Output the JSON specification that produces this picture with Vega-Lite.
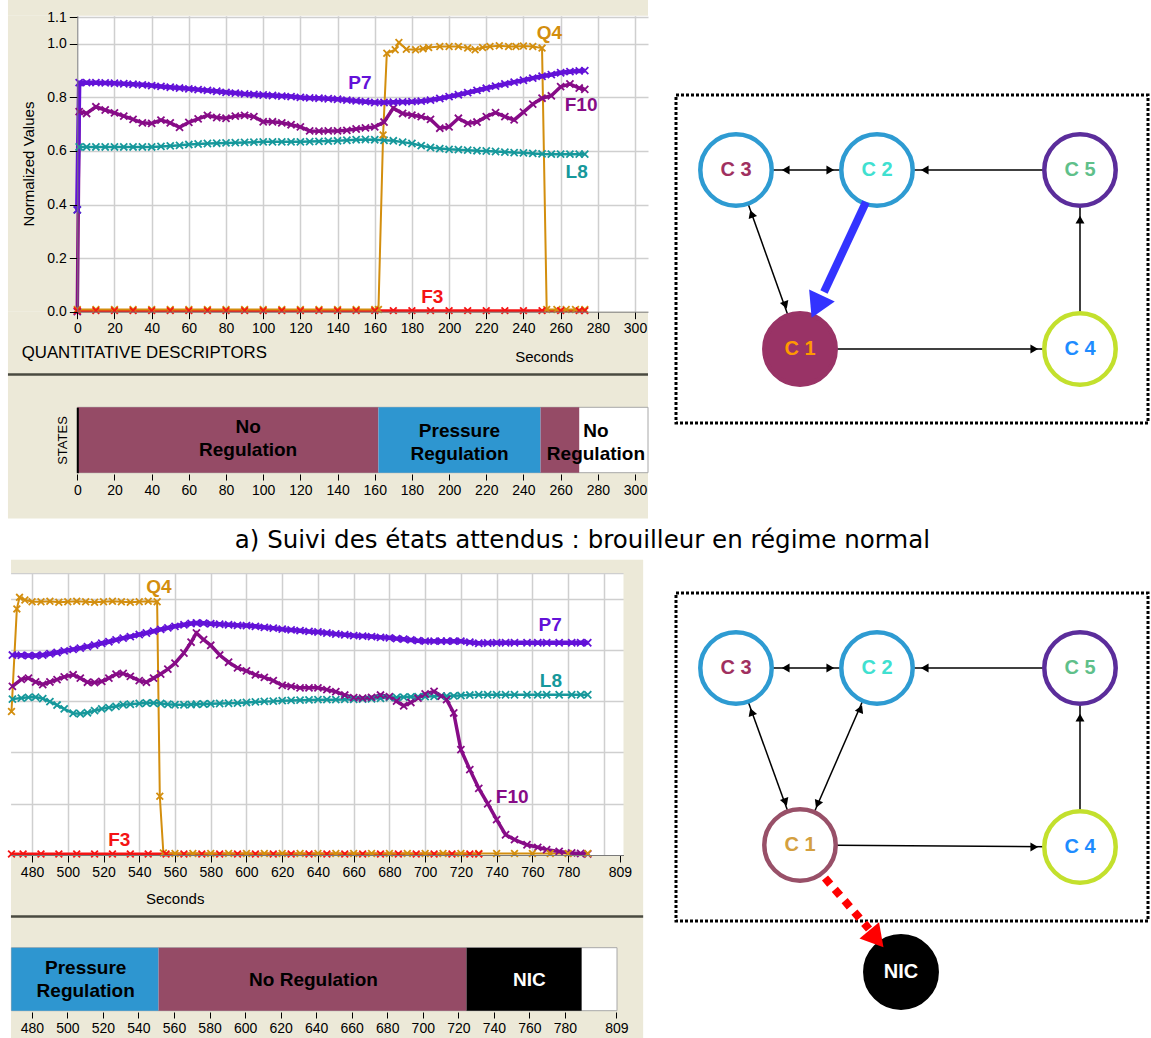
{
"$schema": "https://vega.github.io/schema/vega-lite/v6.json",
"width": 1151, "height": 1038,
"autosize": {"type": "none"},
"padding": 0,
"background": "#FFFFFF",
"config": {
  "view": {"stroke": null},
  "font": "Liberation Sans",
  "axis": {"labelFont": "Liberation Sans", "labelFontSize": 14, "labelColor": "#000000", "tickColor": "#000000", "tickWidth": 1, "domainColor": "#7A7A7A", "titleFont": "Liberation Sans", "titleFontSize": 15, "titleFontWeight": "normal", "titleColor": "#000000", "gridColor": "#CFCFCF", "gridWidth": 1.5, "gridOpacity": 1, "labelFlush": false, "labelOverlap": false}
},
"datasets": {
  "topLines": [
    {"t":0,"P7":0.38,"F10":0.0,"L8":0.38},
    {"t":1,"P7":0.855,"F10":0.747,"L8":0.615},
    {"t":5,"P7":0.855,"F10":0.74,"L8":0.615},
    {"t":10,"P7":0.855,"F10":0.765,"L8":0.615},
    {"t":15,"P7":0.854,"F10":0.753,"L8":0.615},
    {"t":20,"P7":0.853,"F10":0.742,"L8":0.615},
    {"t":25,"P7":0.851,"F10":0.73,"L8":0.615},
    {"t":30,"P7":0.849,"F10":0.718,"L8":0.615},
    {"t":35,"P7":0.847,"F10":0.705,"L8":0.615},
    {"t":40,"P7":0.844,"F10":0.703,"L8":0.615},
    {"t":45,"P7":0.841,"F10":0.715,"L8":0.617},
    {"t":50,"P7":0.838,"F10":0.705,"L8":0.619},
    {"t":55,"P7":0.835,"F10":0.688,"L8":0.621},
    {"t":60,"P7":0.832,"F10":0.707,"L8":0.624},
    {"t":65,"P7":0.829,"F10":0.72,"L8":0.626},
    {"t":70,"P7":0.826,"F10":0.733,"L8":0.628},
    {"t":75,"P7":0.823,"F10":0.725,"L8":0.629},
    {"t":80,"P7":0.819,"F10":0.722,"L8":0.63},
    {"t":85,"P7":0.816,"F10":0.73,"L8":0.631},
    {"t":90,"P7":0.813,"F10":0.733,"L8":0.632},
    {"t":95,"P7":0.811,"F10":0.728,"L8":0.633},
    {"t":100,"P7":0.809,"F10":0.709,"L8":0.634},
    {"t":105,"P7":0.807,"F10":0.709,"L8":0.634},
    {"t":110,"P7":0.805,"F10":0.705,"L8":0.634},
    {"t":115,"P7":0.803,"F10":0.698,"L8":0.634},
    {"t":120,"P7":0.8,"F10":0.69,"L8":0.634},
    {"t":125,"P7":0.798,"F10":0.675,"L8":0.635},
    {"t":130,"P7":0.797,"F10":0.674,"L8":0.636},
    {"t":135,"P7":0.795,"F10":0.675,"L8":0.637},
    {"t":140,"P7":0.793,"F10":0.675,"L8":0.638},
    {"t":145,"P7":0.79,"F10":0.677,"L8":0.64},
    {"t":150,"P7":0.787,"F10":0.682,"L8":0.642},
    {"t":155,"P7":0.784,"F10":0.686,"L8":0.643},
    {"t":160,"P7":0.781,"F10":0.69,"L8":0.642},
    {"t":165,"P7":0.781,"F10":0.708,"L8":0.64},
    {"t":170,"P7":0.782,"F10":0.76,"L8":0.638},
    {"t":175,"P7":0.783,"F10":0.74,"L8":0.633},
    {"t":180,"P7":0.784,"F10":0.734,"L8":0.628},
    {"t":185,"P7":0.786,"F10":0.728,"L8":0.62},
    {"t":190,"P7":0.79,"F10":0.718,"L8":0.613},
    {"t":195,"P7":0.796,"F10":0.685,"L8":0.609},
    {"t":200,"P7":0.803,"F10":0.69,"L8":0.606},
    {"t":205,"P7":0.81,"F10":0.722,"L8":0.605},
    {"t":210,"P7":0.818,"F10":0.703,"L8":0.603},
    {"t":215,"P7":0.826,"F10":0.708,"L8":0.601},
    {"t":220,"P7":0.834,"F10":0.728,"L8":0.6},
    {"t":225,"P7":0.842,"F10":0.743,"L8":0.598},
    {"t":230,"P7":0.85,"F10":0.728,"L8":0.596},
    {"t":235,"P7":0.857,"F10":0.716,"L8":0.594},
    {"t":240,"P7":0.864,"F10":0.745,"L8":0.593},
    {"t":245,"P7":0.872,"F10":0.775,"L8":0.591},
    {"t":250,"P7":0.879,"F10":0.797,"L8":0.589},
    {"t":255,"P7":0.885,"F10":0.806,"L8":0.588},
    {"t":260,"P7":0.892,"F10":0.84,"L8":0.588},
    {"t":265,"P7":0.896,"F10":0.85,"L8":0.588},
    {"t":270,"P7":0.899,"F10":0.835,"L8":0.588},
    {"t":273,"P7":0.9,"F10":0.83,"L8":0.588}
  ],
  "topQF": [
    {"t":0,"s":"Q4","v":0.008},{"t":10,"s":"Q4","v":0.008},{"t":20,"s":"Q4","v":0.008},{"t":30,"s":"Q4","v":0.008},{"t":40,"s":"Q4","v":0.008},{"t":50,"s":"Q4","v":0.008},{"t":60,"s":"Q4","v":0.008},{"t":70,"s":"Q4","v":0.008},{"t":80,"s":"Q4","v":0.008},{"t":90,"s":"Q4","v":0.008},{"t":100,"s":"Q4","v":0.008},{"t":110,"s":"Q4","v":0.008},{"t":120,"s":"Q4","v":0.008},{"t":130,"s":"Q4","v":0.008},{"t":140,"s":"Q4","v":0.008},{"t":150,"s":"Q4","v":0.008},{"t":160,"s":"Q4","v":0.008},{"t":162,"s":"Q4","v":0.008},
    {"t":164.5,"s":"Q4","v":0.66},{"t":166.5,"s":"Q4","v":0.965},{"t":171,"s":"Q4","v":0.978},{"t":173,"s":"Q4","v":1.005},{"t":177,"s":"Q4","v":0.98},{"t":182,"s":"Q4","v":0.978},{"t":186,"s":"Q4","v":0.982},{"t":189,"s":"Q4","v":0.986},{"t":195,"s":"Q4","v":0.99},{"t":200,"s":"Q4","v":0.99},{"t":205,"s":"Q4","v":0.99},{"t":210,"s":"Q4","v":0.984},{"t":214,"s":"Q4","v":0.978},{"t":218,"s":"Q4","v":0.986},{"t":222,"s":"Q4","v":0.99},{"t":227,"s":"Q4","v":0.993},{"t":232,"s":"Q4","v":0.99},{"t":236,"s":"Q4","v":0.99},{"t":240,"s":"Q4","v":0.992},{"t":245,"s":"Q4","v":0.99},{"t":250,"s":"Q4","v":0.984},
    {"t":252.5,"s":"Q4","v":0.008},{"t":258,"s":"Q4","v":0.008},{"t":263,"s":"Q4","v":0.008},{"t":268,"s":"Q4","v":0.008},{"t":273,"s":"Q4","v":0.008},
    {"t":0,"s":"F3","v":0.004},{"t":10,"s":"F3","v":0.004},{"t":20,"s":"F3","v":0.004},{"t":30,"s":"F3","v":0.004},{"t":40,"s":"F3","v":0.004},{"t":50,"s":"F3","v":0.004},{"t":60,"s":"F3","v":0.004},{"t":70,"s":"F3","v":0.004},{"t":80,"s":"F3","v":0.004},{"t":90,"s":"F3","v":0.004},{"t":100,"s":"F3","v":0.004},{"t":110,"s":"F3","v":0.004},{"t":120,"s":"F3","v":0.004},{"t":130,"s":"F3","v":0.004},{"t":140,"s":"F3","v":0.004},{"t":150,"s":"F3","v":0.004},{"t":160,"s":"F3","v":0.004},{"t":170,"s":"F3","v":0.004},{"t":180,"s":"F3","v":0.004},{"t":190,"s":"F3","v":0.004},{"t":200,"s":"F3","v":0.004},{"t":210,"s":"F3","v":0.004},{"t":220,"s":"F3","v":0.004},{"t":230,"s":"F3","v":0.004},{"t":240,"s":"F3","v":0.004},{"t":250,"s":"F3","v":0.004},{"t":260,"s":"F3","v":0.004},{"t":270,"s":"F3","v":0.004},{"t":273,"s":"F3","v":0.004}
  ],
  "topLabels": [
    {"s":"Q4","t":254,"v":1.04},{"s":"P7","t":152,"v":0.853},{"s":"F10","t":271,"v":0.772},{"s":"L8","t":268.6,"v":0.522},{"s":"F3","t":191,"v":0.056}
  ],
  "botLines": [
    {"t":469,"P7":0.78,"F10":0.658,"L8":0.608},
    {"t":474,"P7":0.779,"F10":0.685,"L8":0.612},
    {"t":478,"P7":0.778,"F10":0.69,"L8":0.615},
    {"t":482,"P7":0.778,"F10":0.675,"L8":0.616},
    {"t":486,"P7":0.78,"F10":0.665,"L8":0.61},
    {"t":490,"P7":0.785,"F10":0.675,"L8":0.598},
    {"t":494,"P7":0.79,"F10":0.684,"L8":0.585},
    {"t":498,"P7":0.796,"F10":0.695,"L8":0.57},
    {"t":503,"P7":0.802,"F10":0.703,"L8":0.553},
    {"t":507,"P7":0.807,"F10":0.69,"L8":0.551},
    {"t":511,"P7":0.813,"F10":0.674,"L8":0.555},
    {"t":515,"P7":0.819,"F10":0.673,"L8":0.563},
    {"t":519,"P7":0.826,"F10":0.677,"L8":0.57},
    {"t":523,"P7":0.832,"F10":0.69,"L8":0.575},
    {"t":527,"P7":0.839,"F10":0.705,"L8":0.58},
    {"t":531,"P7":0.846,"F10":0.708,"L8":0.586},
    {"t":535,"P7":0.852,"F10":0.697,"L8":0.588},
    {"t":540,"P7":0.86,"F10":0.68,"L8":0.591},
    {"t":544,"P7":0.866,"F10":0.674,"L8":0.593},
    {"t":548,"P7":0.873,"F10":0.69,"L8":0.593},
    {"t":552,"P7":0.88,"F10":0.706,"L8":0.591},
    {"t":556,"P7":0.886,"F10":0.725,"L8":0.588},
    {"t":560,"P7":0.892,"F10":0.748,"L8":0.586},
    {"t":565,"P7":0.898,"F10":0.788,"L8":0.586},
    {"t":569,"P7":0.903,"F10":0.83,"L8":0.587},
    {"t":572,"P7":0.905,"F10":0.866,"L8":0.588},
    {"t":576,"P7":0.904,"F10":0.84,"L8":0.589},
    {"t":580,"P7":0.902,"F10":0.818,"L8":0.59},
    {"t":585,"P7":0.9,"F10":0.78,"L8":0.591},
    {"t":590,"P7":0.898,"F10":0.752,"L8":0.592},
    {"t":595,"P7":0.896,"F10":0.73,"L8":0.593},
    {"t":600,"P7":0.895,"F10":0.718,"L8":0.595},
    {"t":605,"P7":0.892,"F10":0.703,"L8":0.597},
    {"t":610,"P7":0.888,"F10":0.693,"L8":0.599},
    {"t":615,"P7":0.885,"F10":0.68,"L8":0.6},
    {"t":620,"P7":0.881,"F10":0.662,"L8":0.602},
    {"t":625,"P7":0.878,"F10":0.658,"L8":0.603},
    {"t":630,"P7":0.875,"F10":0.652,"L8":0.604},
    {"t":635,"P7":0.872,"F10":0.652,"L8":0.605},
    {"t":640,"P7":0.87,"F10":0.652,"L8":0.606},
    {"t":645,"P7":0.866,"F10":0.645,"L8":0.606},
    {"t":650,"P7":0.862,"F10":0.637,"L8":0.606},
    {"t":655,"P7":0.859,"F10":0.624,"L8":0.607},
    {"t":660,"P7":0.856,"F10":0.614,"L8":0.607},
    {"t":665,"P7":0.854,"F10":0.612,"L8":0.608},
    {"t":670,"P7":0.852,"F10":0.615,"L8":0.609},
    {"t":675,"P7":0.849,"F10":0.624,"L8":0.611},
    {"t":680,"P7":0.847,"F10":0.618,"L8":0.614},
    {"t":684,"P7":0.844,"F10":0.6,"L8":0.615},
    {"t":688,"P7":0.842,"F10":0.582,"L8":0.616},
    {"t":692,"P7":0.839,"F10":0.595,"L8":0.617},
    {"t":696,"P7":0.836,"F10":0.612,"L8":0.618},
    {"t":700,"P7":0.834,"F10":0.628,"L8":0.618},
    {"t":705,"P7":0.834,"F10":0.638,"L8":0.619},
    {"t":709,"P7":0.834,"F10":0.62,"L8":0.62},
    {"t":712,"P7":0.834,"F10":0.606,"L8":0.62},
    {"t":716,"P7":0.834,"F10":0.554,"L8":0.621},
    {"t":720,"P7":0.834,"F10":0.411,"L8":0.622},
    {"t":725,"P7":0.83,"F10":0.333,"L8":0.624},
    {"t":730,"P7":0.826,"F10":0.26,"L8":0.625},
    {"t":735,"P7":0.827,"F10":0.2,"L8":0.625},
    {"t":740,"P7":0.828,"F10":0.138,"L8":0.625},
    {"t":745,"P7":0.828,"F10":0.079,"L8":0.625},
    {"t":750,"P7":0.828,"F10":0.06,"L8":0.625},
    {"t":757,"P7":0.828,"F10":0.04,"L8":0.625},
    {"t":763,"P7":0.828,"F10":0.03,"L8":0.625},
    {"t":768,"P7":0.828,"F10":0.021,"L8":0.625},
    {"t":775,"P7":0.828,"F10":0.014,"L8":0.625},
    {"t":782,"P7":0.828,"F10":0.008,"L8":0.625},
    {"t":787,"P7":0.828,"F10":0.006,"L8":0.625},
    {"t":791,"P7":0.828,"F10":0.004,"L8":0.625}
  ],
  "botQF": [
    {"t":468.5,"s":"Q4","v":0.56},{"t":471.5,"s":"Q4","v":0.96},{"t":473,"s":"Q4","v":1.005},{"t":476,"s":"Q4","v":0.995},{"t":480,"s":"Q4","v":0.988},{"t":485,"s":"Q4","v":0.988},{"t":490,"s":"Q4","v":0.99},{"t":495,"s":"Q4","v":0.986},{"t":500,"s":"Q4","v":0.988},{"t":505,"s":"Q4","v":0.99},{"t":510,"s":"Q4","v":0.988},{"t":515,"s":"Q4","v":0.986},{"t":520,"s":"Q4","v":0.988},{"t":525,"s":"Q4","v":0.99},{"t":530,"s":"Q4","v":0.988},{"t":535,"s":"Q4","v":0.986},{"t":540,"s":"Q4","v":0.988},{"t":545,"s":"Q4","v":0.99},{"t":550,"s":"Q4","v":0.988},
    {"t":551.5,"s":"Q4","v":0.229},{"t":553.5,"s":"Q4","v":0.008},{"t":560,"s":"Q4","v":0.006},{"t":570,"s":"Q4","v":0.006},{"t":580,"s":"Q4","v":0.006},{"t":590,"s":"Q4","v":0.006},{"t":600,"s":"Q4","v":0.006},{"t":610,"s":"Q4","v":0.006},{"t":620,"s":"Q4","v":0.006},{"t":630,"s":"Q4","v":0.006},{"t":640,"s":"Q4","v":0.006},{"t":650,"s":"Q4","v":0.006},{"t":660,"s":"Q4","v":0.006},{"t":670,"s":"Q4","v":0.006},{"t":680,"s":"Q4","v":0.006},{"t":690,"s":"Q4","v":0.006},{"t":700,"s":"Q4","v":0.006},{"t":710,"s":"Q4","v":0.006},{"t":720,"s":"Q4","v":0.006},{"t":730,"s":"Q4","v":0.006},{"t":740,"s":"Q4","v":0.006},{"t":750,"s":"Q4","v":0.006},{"t":760,"s":"Q4","v":0.006},{"t":770,"s":"Q4","v":0.006},{"t":780,"s":"Q4","v":0.006},{"t":791,"s":"Q4","v":0.006},
    {"t":468.5,"s":"F3","v":0.004},{"t":475,"s":"F3","v":0.004},{"t":485,"s":"F3","v":0.004},{"t":495,"s":"F3","v":0.004},{"t":505,"s":"F3","v":0.004},{"t":515,"s":"F3","v":0.004},{"t":525,"s":"F3","v":0.004},{"t":535,"s":"F3","v":0.004},{"t":545,"s":"F3","v":0.004},{"t":555,"s":"F3","v":0.004},{"t":565,"s":"F3","v":0.004},{"t":575,"s":"F3","v":0.004},{"t":585,"s":"F3","v":0.004},{"t":595,"s":"F3","v":0.004},{"t":605,"s":"F3","v":0.004},{"t":615,"s":"F3","v":0.004},{"t":625,"s":"F3","v":0.004},{"t":635,"s":"F3","v":0.004},{"t":645,"s":"F3","v":0.004},{"t":655,"s":"F3","v":0.004},{"t":665,"s":"F3","v":0.004},{"t":675,"s":"F3","v":0.004},{"t":685,"s":"F3","v":0.004},{"t":695,"s":"F3","v":0.004},{"t":705,"s":"F3","v":0.004},{"t":715,"s":"F3","v":0.004},{"t":725,"s":"F3","v":0.004},{"t":730,"s":"F3","v":0.004}
  ],
  "botLabels": [
    {"s":"Q4","t":551,"v":1.046},{"s":"P7","t":770,"v":0.897},{"s":"L8","t":770.4,"v":0.68},{"s":"F10","t":748.7,"v":0.227},{"s":"F3","t":528.8,"v":0.0585}
  ],
  "topStates": [
    {"start":0,"end":162,"state":"No Regulation"},
    {"start":162,"end":249.2,"state":"Pressure Regulation"},
    {"start":249.2,"end":270,"state":"No Regulation"}
  ],
  "topStateLabels": [
    {"t":91.9,"y":0.703,"lines":["No","Regulation"]},
    {"t":205.6,"y":0.638,"lines":["Pressure","Regulation"]},
    {"t":279,"y":0.638,"lines":["No","Regulation"]}
  ],
  "botStates": [
    {"start":468.5,"end":551.3,"state":"Pressure Regulation"},
    {"start":551.3,"end":724.6,"state":"No Regulation"},
    {"start":724.6,"end":789.4,"state":"NIC"}
  ],
  "botStateLabels": [
    {"t":510.3,"y":0.678,"lines":["Pressure","Regulation"],"state":"Pressure Regulation"},
    {"t":638.5,"y":0.49,"lines":["No Regulation"],"state":"No Regulation"},
    {"t":760,"y":0.49,"lines":["NIC"],"state":"NIC"}
  ],
  "nodesTop": [
    {"id":"C1","label":"C 1","x":124,"y":254},
    {"id":"C2","label":"C 2","x":201,"y":75},
    {"id":"C3","label":"C 3","x":60,"y":75},
    {"id":"C4","label":"C 4","x":404,"y":254},
    {"id":"C5","label":"C 5","x":404,"y":75}
  ],
  "nodesBot": [
    {"id":"C1","label":"C 1","x":124,"y":252},
    {"id":"C2","label":"C 2","x":201,"y":75},
    {"id":"C3","label":"C 3","x":60,"y":75},
    {"id":"C4","label":"C 4","x":404,"y":254},
    {"id":"C5","label":"C 5","x":404,"y":75},
    {"id":"NIC","label":"NIC","x":225,"y":379}
  ],
  "edgesTop": [
    {"from":"C3","to":"C2"},{"from":"C5","to":"C2"},{"from":"C3","to":"C1"},{"from":"C1","to":"C4"},{"from":"C4","to":"C5"}
  ],
  "edgesBot": [
    {"from":"C3","to":"C2"},{"from":"C5","to":"C2"},{"from":"C3","to":"C1"},{"from":"C2","to":"C1"},{"from":"C1","to":"C4"},{"from":"C4","to":"C5"}
  ],
  "headsTop": [
    {"x":111,"y":75,"a":270},{"x":153,"y":75,"a":90},{"x":250,"y":75,"a":270},{"x":76,"y":120,"a":340},{"x":109,"y":209,"a":160},{"x":357,"y":254,"a":90},{"x":404,"y":126,"a":0}
  ],
  "headsBot": [
    {"x":111,"y":75,"a":270},{"x":153,"y":75,"a":90},{"x":250,"y":75,"a":270},{"x":76,"y":120,"a":340},{"x":109,"y":208,"a":160},{"x":357,"y":254,"a":90},{"x":404,"y":126,"a":0},{"x":184,"y":117,"a":23},{"x":142,"y":210,"a":203}
  ],
  "blueArrow": [{"xa":190,"ya":107,"xb":148,"yb":197,"hx":142.5,"hy":208,"a":205}],
  "redArrow": [{"xa":149,"ya":285,"xb":193,"yb":336,"hx":198,"hy":343,"a":140}]
},
"layer": [
  {
    "layer": [
      {"data": {"values": [{}]}, "mark": {"type": "rect", "fill": "#ECE9D8"},
       "encoding": {
         "x": {"datum": -37.3, "type": "quantitative", "scale": {"domain": [0, 307], "range": [77.3, 648], "nice": false, "zero": false},
               "axis": {"orient": "bottom", "offset": -726.3, "values": [0,20,40,60,80,100,120,140,160,180,200,220,240,260,280,300], "grid": false, "domain": true, "tickSize": 7, "labelPadding": 3, "title": "Seconds", "titleX": 543.9, "titleY": 44.3, "titleAlign": "center", "titleBaseline": "middle", "zindex": 1}},
         "x2": {"datum": 307},
         "y": {"datum": 1.105, "type": "quantitative", "scale": {"domain": [0, 1.105], "range": [311.7, 15.7], "nice": false, "zero": false},
               "axis": {"orient": "left", "offset": -77.3, "values": [0,0.2,0.4,0.6,0.8,1.0,1.1], "format": ".1f", "grid": false, "domain": true, "tickSize": 8, "labelPadding": 3, "title": "Normalized  Values", "titleX": -49, "titleY": 163.5, "titleAngle": -90, "titleAlign": "center", "titleBaseline": "middle", "zindex": 1}},
         "y2": {"datum": 1.17}
       }},
      {"data": {"values": [{}]}, "mark": {"type": "rect", "fill": "#ECE9D8"},
       "encoding": {"x": {"datum": -37.3, "type": "quantitative", "axis": null}, "x2": {"datum": 0}, "y": {"datum": 0, "type": "quantitative", "axis": null}, "y2": {"datum": 1.105}}},
      {"data": {"values": [{}]}, "mark": {"type": "rect", "fill": "#ECE9D8"},
       "encoding": {"x": {"datum": -37.3, "type": "quantitative", "axis": null}, "x2": {"datum": 307}, "y": {"datum": -0.772, "type": "quantitative", "axis": null}, "y2": {"datum": 0}}},
      {"data": {"values": [{}]}, "mark": {"type": "rule", "color": "#4A4A40", "strokeWidth": 2.5},
       "encoding": {"x": {"datum": -37.3, "type": "quantitative", "axis": null}, "x2": {"datum": 307}, "y": {"datum": -0.2344, "type": "quantitative", "axis": null}}},
      {"data": {"values": [{}]}, "mark": {"type": "text", "align": "left", "baseline": "middle", "fontSize": 16.8, "color": "#000000", "text": "QUANTITATIVE DESCRIPTORS"},
       "encoding": {"x": {"datum": -29.9, "type": "quantitative", "axis": null}, "y": {"datum": -0.156, "type": "quantitative", "axis": null}}},
      {"data": {"name": "topQF"}, "transform": [{"filter": {"field": "s", "equal": "F3"}}], "mark": {"type": "line", "strokeWidth": 3},
       "encoding": {"x": {"field": "t", "type": "quantitative", "axis": null}, "y": {"field": "v", "type": "quantitative", "axis": null},
         "color": {"field": "s", "type": "nominal", "scale": {"domain": ["P7","F10","L8","Q4","F3"], "range": ["#6312D8","#870C87","#16989B","#D38E0E","#F41414"]}, "legend": null}}},
      {"data": {"name": "topQF"}, "transform": [{"filter": {"field": "s", "equal": "Q4"}}], "mark": {"type": "line", "strokeWidth": 2},
       "encoding": {"x": {"field": "t", "type": "quantitative", "axis": null}, "y": {"field": "v", "type": "quantitative", "axis": null},
         "color": {"field": "s", "type": "nominal", "legend": null}}},
      {"data": {"name": "topLines"}, "transform": [{"fold": ["L8","F10","P7"], "as": ["s","v"]}], "mark": {"type": "line"},
       "encoding": {
         "x": {"field": "t", "type": "quantitative", "axis": {"orient": "top", "grid": true, "labels": false, "ticks": false, "domain": false, "title": null, "values": [20,40,60,80,100,120,140,160,180,200,220,240,260,280,300], "zindex": 0}},
         "y": {"field": "v", "type": "quantitative", "axis": {"orient": "left", "grid": true, "labels": false, "ticks": false, "domain": false, "title": null, "values": [0.2,0.4,0.6,0.8,1.0,1.1], "zindex": 0}},
         "color": {"field": "s", "type": "nominal", "legend": null},
         "strokeWidth": {"field": "s", "type": "nominal", "scale": {"domain": ["P7","F10","L8"], "range": [4.5,2.5,4]}, "legend": null}}},
      {"data": {"name": "topLines"}, "transform": [{"fold": ["L8","F10","P7"], "as": ["s","v"]}], "mark": {"type": "point", "shape": "M-1,-1L1,1M-1,1L1,-1", "filled": false, "strokeWidth": 1.8, "size": 50, "opacity": 1},
       "encoding": {"x": {"field": "t", "type": "quantitative", "axis": null}, "y": {"field": "v", "type": "quantitative", "axis": null}, "color": {"field": "s", "type": "nominal", "legend": null}}},
      {"data": {"name": "topQF"}, "mark": {"type": "point", "shape": "M-1,-1L1,1M-1,1L1,-1", "filled": false, "strokeWidth": 1.8, "size": 45, "opacity": 1},
       "encoding": {"x": {"field": "t", "type": "quantitative", "axis": null}, "y": {"field": "v", "type": "quantitative", "axis": null}, "color": {"field": "s", "type": "nominal", "legend": null}}},
      {"data": {"name": "topLabels"}, "mark": {"type": "text", "fontWeight": "bold", "fontSize": 19, "baseline": "middle", "align": "center"},
       "encoding": {"x": {"field": "t", "type": "quantitative", "axis": null}, "y": {"field": "v", "type": "quantitative", "axis": null}, "text": {"field": "s"}, "color": {"field": "s", "type": "nominal", "legend": null}}}
    ],
    "resolve": {"axis": {"x": "independent", "y": "independent"}}
  },
  {
    "layer": [
      {"data": {"values": [{}]}, "mark": {"type": "rect", "fill": "#FFFFFF", "stroke": "#A8A8A8", "strokeWidth": 1},
       "encoding": {
         "x": {"datum": 0, "type": "quantitative", "scale": {"domain": [0, 307], "range": [77.3, 648], "nice": false, "zero": false},
               "axis": {"orient": "bottom", "offset": -564, "values": [0,20,40,60,80,100,120,140,160,180,200,220,240,260,280,300], "grid": false, "domain": false, "tickSize": 6, "labelPadding": 3, "title": null, "zindex": 1}},
         "x2": {"datum": 307},
         "y": {"datum": 0, "type": "quantitative", "scale": {"domain": [0, 1], "range": [472.7, 407.3], "nice": false, "zero": false},
               "axis": {"orient": "left", "offset": -77.3, "values": [0], "grid": false, "domain": true, "domainColor": "#000000", "domainWidth": 2, "ticks": false, "labels": false, "title": "STATES", "titleFontSize": 13, "titleX": -14.9, "titleY": 440, "titleAngle": -90, "titleAlign": "center", "titleBaseline": "middle", "zindex": 1}},
         "y2": {"datum": 1}
       }},
      {"data": {"name": "topStates"}, "mark": {"type": "rect"},
       "encoding": {"x": {"field": "start", "type": "quantitative", "axis": null}, "x2": {"field": "end"}, "y": {"datum": 0, "type": "quantitative", "axis": null}, "y2": {"datum": 1},
         "color": {"field": "state", "type": "nominal", "scale": {"domain": ["No Regulation","Pressure Regulation"], "range": ["#954B66","#2E96D0"]}, "legend": null}}},
      {"data": {"name": "topStateLabels"}, "mark": {"type": "text", "fontWeight": "bold", "fontSize": 19, "lineHeight": 23, "color": "#000000", "baseline": "middle", "align": "center"},
       "encoding": {"x": {"field": "t", "type": "quantitative", "axis": null}, "y": {"field": "y", "type": "quantitative", "axis": null}, "text": {"field": "lines"}}}
    ],
    "resolve": {"axis": {"x": "independent", "y": "independent"}}
  },
  {
    "layer": [
      {"data": {"values": [{}]}, "mark": {"type": "rect", "fillOpacity": 0, "stroke": "#000000", "strokeWidth": 3, "strokeDash": [3, 2]},
       "encoding": {"x": {"datum": 0, "type": "quantitative", "scale": {"domain": [0, 472], "range": [676, 1148], "nice": false, "zero": false}, "axis": null}, "x2": {"datum": 472},
                    "y": {"datum": 0, "type": "quantitative", "scale": {"domain": [0, 329], "range": [95, 424], "nice": false, "zero": false}, "axis": null}, "y2": {"datum": 328}}},
      {"data": {"name": "edgesTop"},
       "transform": [
         {"lookup": "from", "from": {"data": {"name": "nodesTop"}, "key": "id", "fields": ["x","y"]}, "as": ["xa","ya"]},
         {"lookup": "to", "from": {"data": {"name": "nodesTop"}, "key": "id", "fields": ["x","y"]}, "as": ["xb","yb"]}
       ],
       "mark": {"type": "rule", "color": "#000000", "strokeWidth": 1.5},
       "encoding": {"x": {"field": "xa", "type": "quantitative", "axis": null}, "y": {"field": "ya", "type": "quantitative", "axis": null}, "x2": {"field": "xb"}, "y2": {"field": "yb"}}},
      {"data": {"name": "headsTop"}, "mark": {"type": "point", "shape": "triangle", "filled": true, "color": "#000000", "size": 80, "opacity": 1},
       "encoding": {"x": {"field": "x", "type": "quantitative", "axis": null}, "y": {"field": "y", "type": "quantitative", "axis": null}, "angle": {"field": "a", "type": "quantitative", "scale": null}}},
      {"data": {"name": "nodesTop"}, "mark": {"type": "point", "shape": "circle", "filled": true, "size": 5100, "strokeWidth": 4.5, "opacity": 1, "fillOpacity": 1},
       "encoding": {"x": {"field": "x", "type": "quantitative", "axis": null}, "y": {"field": "y", "type": "quantitative", "axis": null},
         "fill": {"field": "id", "type": "nominal", "scale": {"domain": ["C1","C2","C3","C4","C5"], "range": ["#993366","#FFFFFF","#FFFFFF","#FFFFFF","#FFFFFF"]}, "legend": null},
         "stroke": {"field": "id", "type": "nominal", "scale": {"domain": ["C1","C2","C3","C4","C5"], "range": ["#993366","#2E9BD2","#2E9BD2","#C3E02D","#5B2D9B"]}, "legend": null}}},
      {"data": {"name": "nodesTop"}, "mark": {"type": "text", "fontWeight": "bold", "fontSize": 20, "baseline": "middle", "align": "center"},
       "encoding": {"x": {"field": "x", "type": "quantitative", "axis": null}, "y": {"field": "y", "type": "quantitative", "axis": null}, "text": {"field": "label"},
         "color": {"field": "id", "type": "nominal", "scale": {"domain": ["C1","C2","C3","C4","C5"], "range": ["#FF9900","#40E0D0","#A0305F","#1E8CFF","#5FC08A"]}, "legend": null}}},
      {"data": {"name": "blueArrow"}, "mark": {"type": "rule", "color": "#3333FF", "strokeWidth": 8},
       "encoding": {"x": {"field": "xa", "type": "quantitative", "axis": null}, "y": {"field": "ya", "type": "quantitative", "axis": null}, "x2": {"field": "xb"}, "y2": {"field": "yb"}}},
      {"data": {"name": "blueArrow"}, "mark": {"type": "point", "shape": "triangle", "filled": true, "color": "#3333FF", "size": 800, "opacity": 1},
       "encoding": {"x": {"field": "hx", "type": "quantitative", "axis": null}, "y": {"field": "hy", "type": "quantitative", "axis": null}, "angle": {"field": "a", "type": "quantitative", "scale": null}}}
    ]
  },
  {"data": {"values": [{}]}, "mark": {"type": "text", "font": "DejaVu Sans", "fontSize": 24.5, "color": "#000000", "baseline": "middle", "align": "center", "text": "a) Suivi des états attendus : brouilleur en régime normal"},
   "encoding": {"x": {"datum": 0.506, "type": "quantitative", "scale": {"domain": [0, 1], "range": [0, 1151], "nice": false, "zero": false}, "axis": null},
                "y": {"datum": 0.45, "type": "quantitative", "scale": {"domain": [0, 1], "range": [560, 517], "nice": false, "zero": false}, "axis": null}}},
  {
    "layer": [
      {"data": {"values": [{}]}, "mark": {"type": "rect", "fill": "#ECE9D8"},
       "encoding": {
         "x": {"datum": 468.2, "type": "quantitative", "scale": {"domain": [468, 811], "range": [10.6, 623.5], "nice": false, "zero": false},
               "axis": {"orient": "bottom", "offset": -183, "values": [480,500,520,540,560,580,600,620,640,660,680,700,720,740,760,780,809], "grid": false, "domain": true, "tickSize": 7, "labelPadding": 3, "title": "Seconds", "titleX": 174.7, "titleY": 43.3, "titleAlign": "center", "titleBaseline": "middle", "zindex": 1}},
         "x2": {"datum": 822},
         "y": {"datum": 1.1, "type": "quantitative", "scale": {"domain": [0, 1.1], "range": [855, 573], "nice": false, "zero": false}, "axis": null},
         "y2": {"datum": 1.152}
       }},
      {"data": {"values": [{}]}, "mark": {"type": "rect", "fill": "#ECE9D8"},
       "encoding": {"x": {"datum": 811, "type": "quantitative", "axis": null}, "x2": {"datum": 822}, "y": {"datum": 0, "type": "quantitative", "axis": null}, "y2": {"datum": 1.1}}},
      {"data": {"values": [{}]}, "mark": {"type": "rect", "fill": "#ECE9D8"},
       "encoding": {"x": {"datum": 468.2, "type": "quantitative", "axis": null}, "x2": {"datum": 822}, "y": {"datum": -0.715, "type": "quantitative", "axis": null}, "y2": {"datum": 0}}},
      {"data": {"values": [{}]}, "mark": {"type": "rule", "color": "#4A4A40", "strokeWidth": 2.5},
       "encoding": {"x": {"datum": 468.2, "type": "quantitative", "axis": null}, "x2": {"datum": 822}, "y": {"datum": -0.24, "type": "quantitative", "axis": null}}},
      {"data": {"name": "botQF"}, "transform": [{"filter": {"field": "s", "equal": "F3"}}], "mark": {"type": "line", "strokeWidth": 3},
       "encoding": {"x": {"field": "t", "type": "quantitative", "axis": null}, "y": {"field": "v", "type": "quantitative", "axis": null},
         "color": {"field": "s", "type": "nominal", "scale": {"domain": ["P7","F10","L8","Q4","F3"], "range": ["#6312D8","#870C87","#16989B","#D38E0E","#F41414"]}, "legend": null}}},
      {"data": {"name": "botQF"}, "transform": [{"filter": {"field": "s", "equal": "Q4"}}], "mark": {"type": "line", "strokeWidth": 2},
       "encoding": {"x": {"field": "t", "type": "quantitative", "axis": null}, "y": {"field": "v", "type": "quantitative", "axis": null},
         "color": {"field": "s", "type": "nominal", "legend": null}}},
      {"data": {"name": "botLines"}, "transform": [{"fold": ["L8","F10","P7"], "as": ["s","v"]}], "mark": {"type": "line"},
       "encoding": {
         "x": {"field": "t", "type": "quantitative", "axis": {"orient": "top", "grid": true, "labels": false, "ticks": false, "domain": false, "title": null, "values": [480,500,520,540,560,580,600,620,640,660,680,700,720,740,760,780,800], "zindex": 0}},
         "y": {"field": "v", "type": "quantitative", "axis": {"orient": "left", "grid": true, "labels": false, "ticks": false, "domain": false, "title": null, "values": [0.2,0.4,0.6,0.8,1.0,1.1], "zindex": 0}},
         "color": {"field": "s", "type": "nominal", "legend": null},
         "strokeWidth": {"field": "s", "type": "nominal", "scale": {"domain": ["P7","F10","L8"], "range": [4.5,2.5,4]}, "legend": null}}},
      {"data": {"name": "botLines"}, "transform": [{"fold": ["L8","F10","P7"], "as": ["s","v"]}], "mark": {"type": "point", "shape": "M-1,-1L1,1M-1,1L1,-1", "filled": false, "strokeWidth": 1.8, "size": 50, "opacity": 1},
       "encoding": {"x": {"field": "t", "type": "quantitative", "axis": null}, "y": {"field": "v", "type": "quantitative", "axis": null}, "color": {"field": "s", "type": "nominal", "legend": null}}},
      {"data": {"name": "botQF"}, "mark": {"type": "point", "shape": "M-1,-1L1,1M-1,1L1,-1", "filled": false, "strokeWidth": 1.8, "size": 45, "opacity": 1},
       "encoding": {"x": {"field": "t", "type": "quantitative", "axis": null}, "y": {"field": "v", "type": "quantitative", "axis": null}, "color": {"field": "s", "type": "nominal", "legend": null}}},
      {"data": {"name": "botLabels"}, "mark": {"type": "text", "fontWeight": "bold", "fontSize": 19, "baseline": "middle", "align": "center"},
       "encoding": {"x": {"field": "t", "type": "quantitative", "axis": null}, "y": {"field": "v", "type": "quantitative", "axis": null}, "text": {"field": "s"}, "color": {"field": "s", "type": "nominal", "legend": null}}}
    ],
    "resolve": {"axis": {"x": "independent", "y": "independent"}}
  },
  {
    "layer": [
      {"data": {"values": [{}]}, "mark": {"type": "rect", "fill": "#FFFFFF", "stroke": "#A8A8A8", "strokeWidth": 1},
       "encoding": {
         "x": {"datum": 468.5, "type": "quantitative", "scale": {"domain": [468.5, 809.3], "range": [11.4, 617], "nice": false, "zero": false},
               "axis": {"orient": "bottom", "offset": -26, "values": [480,500,520,540,560,580,600,620,640,660,680,700,720,740,760,780,809], "grid": false, "domain": false, "tickSize": 6, "labelPadding": 3, "title": null, "zindex": 1}},
         "x2": {"datum": 809.3},
         "y": {"datum": 0, "type": "quantitative", "scale": {"domain": [0, 1], "range": [1010.7, 947.7], "nice": false, "zero": false}, "axis": null},
         "y2": {"datum": 1}
       }},
      {"data": {"name": "botStates"}, "mark": {"type": "rect"},
       "encoding": {"x": {"field": "start", "type": "quantitative", "axis": null}, "x2": {"field": "end"}, "y": {"datum": 0, "type": "quantitative", "axis": null}, "y2": {"datum": 1},
         "color": {"field": "state", "type": "nominal", "scale": {"domain": ["No Regulation","Pressure Regulation","NIC"], "range": ["#954B66","#2E96D0","#000000"]}, "legend": null}}},
      {"data": {"name": "botStateLabels"}, "mark": {"type": "text", "fontWeight": "bold", "fontSize": 19, "lineHeight": 23, "baseline": "middle", "align": "center"},
       "encoding": {"x": {"field": "t", "type": "quantitative", "axis": null}, "y": {"field": "y", "type": "quantitative", "axis": null}, "text": {"field": "lines"},
         "color": {"field": "state", "type": "nominal", "scale": {"domain": ["No Regulation","Pressure Regulation","NIC"], "range": ["#000000","#000000","#FFFFFF"]}, "legend": null}}}
    ],
    "resolve": {"axis": {"x": "independent", "y": "independent"}, "scale": {"color": "independent"}}
  },
  {
    "layer": [
      {"data": {"values": [{}]}, "mark": {"type": "rect", "fillOpacity": 0, "stroke": "#000000", "strokeWidth": 3, "strokeDash": [3, 2]},
       "encoding": {"x": {"datum": 0, "type": "quantitative", "scale": {"domain": [0, 472], "range": [676, 1148], "nice": false, "zero": false}, "axis": null}, "x2": {"datum": 472},
                    "y": {"datum": 0, "type": "quantitative", "scale": {"domain": [0, 445], "range": [593, 1038], "nice": false, "zero": false}, "axis": null}, "y2": {"datum": 328}}},
      {"data": {"name": "edgesBot"},
       "transform": [
         {"lookup": "from", "from": {"data": {"name": "nodesBot"}, "key": "id", "fields": ["x","y"]}, "as": ["xa","ya"]},
         {"lookup": "to", "from": {"data": {"name": "nodesBot"}, "key": "id", "fields": ["x","y"]}, "as": ["xb","yb"]}
       ],
       "mark": {"type": "rule", "color": "#000000", "strokeWidth": 1.5},
       "encoding": {"x": {"field": "xa", "type": "quantitative", "axis": null}, "y": {"field": "ya", "type": "quantitative", "axis": null}, "x2": {"field": "xb"}, "y2": {"field": "yb"}}},
      {"data": {"name": "headsBot"}, "mark": {"type": "point", "shape": "triangle", "filled": true, "color": "#000000", "size": 80, "opacity": 1},
       "encoding": {"x": {"field": "x", "type": "quantitative", "axis": null}, "y": {"field": "y", "type": "quantitative", "axis": null}, "angle": {"field": "a", "type": "quantitative", "scale": null}}},
      {"data": {"name": "nodesBot"}, "mark": {"type": "point", "shape": "circle", "filled": true, "size": 5100, "strokeWidth": 4.5, "opacity": 1, "fillOpacity": 1},
       "encoding": {"x": {"field": "x", "type": "quantitative", "axis": null}, "y": {"field": "y", "type": "quantitative", "axis": null},
         "fill": {"field": "id", "type": "nominal", "scale": {"domain": ["C1","C2","C3","C4","C5","NIC"], "range": ["#FFFFFF","#FFFFFF","#FFFFFF","#FFFFFF","#FFFFFF","#000000"]}, "legend": null},
         "stroke": {"field": "id", "type": "nominal", "scale": {"domain": ["C1","C2","C3","C4","C5","NIC"], "range": ["#985068","#2E9BD2","#2E9BD2","#C3E02D","#5B2D9B","#000000"]}, "legend": null}}},
      {"data": {"name": "nodesBot"}, "mark": {"type": "text", "fontWeight": "bold", "fontSize": 20, "baseline": "middle", "align": "center"},
       "encoding": {"x": {"field": "x", "type": "quantitative", "axis": null}, "y": {"field": "y", "type": "quantitative", "axis": null}, "text": {"field": "label"},
         "color": {"field": "id", "type": "nominal", "scale": {"domain": ["C1","C2","C3","C4","C5","NIC"], "range": ["#D4A040","#40E0D0","#A0305F","#1E8CFF","#5FC08A","#FFFFFF"]}, "legend": null}}},
      {"data": {"name": "redArrow"}, "mark": {"type": "rule", "color": "#FF0000", "strokeWidth": 8, "strokeDash": [8, 7]},
       "encoding": {"x": {"field": "xa", "type": "quantitative", "axis": null}, "y": {"field": "ya", "type": "quantitative", "axis": null}, "x2": {"field": "xb"}, "y2": {"field": "yb"}}},
      {"data": {"name": "redArrow"}, "mark": {"type": "point", "shape": "triangle", "filled": true, "color": "#FF0000", "size": 650, "opacity": 1},
       "encoding": {"x": {"field": "hx", "type": "quantitative", "axis": null}, "y": {"field": "hy", "type": "quantitative", "axis": null}, "angle": {"field": "a", "type": "quantitative", "scale": null}}}
    ]
  }
],
"resolve": {
  "scale": {"x": "independent", "y": "independent", "color": "independent", "fill": "independent", "stroke": "independent", "angle": "independent", "shape": "independent", "size": "independent", "opacity": "independent", "strokeWidth": "independent"},
  "axis": {"x": "independent", "y": "independent"}
}
}
